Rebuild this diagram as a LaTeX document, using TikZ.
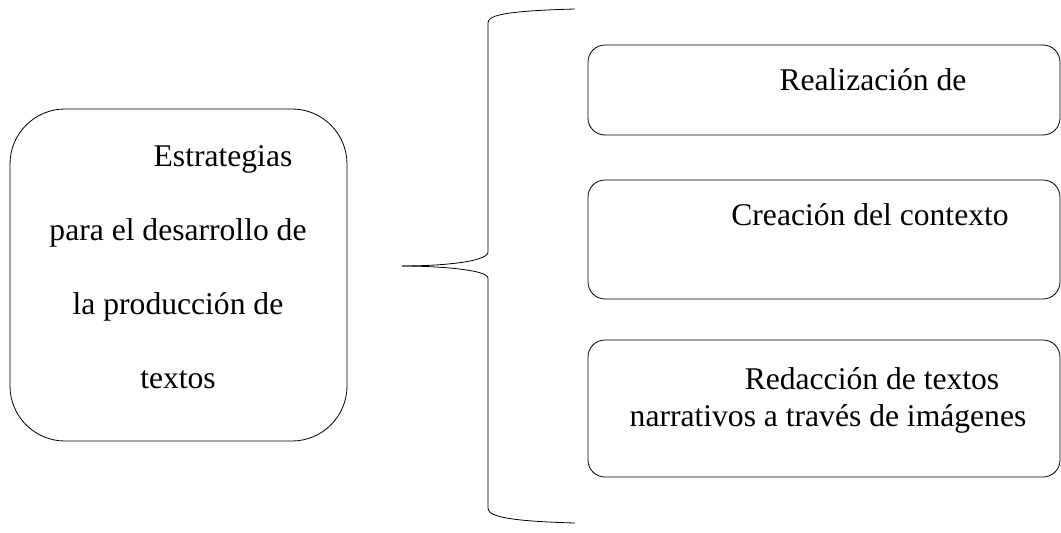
\documentclass[tikz,border=0pt]{standalone}
\usepackage{fontspec}
\setmainfont{Liberation Serif}
\begin{document}
\begin{tikzpicture}[x=1pt,y=1pt,line width=0.8pt]
	\tikzstyle{every node}+=[inner sep=0pt,font=\fontsize{31.6}{36}\selectfont]
	\tikzstyle{mainbox}=[draw=black,rounded corners=55pt,minimum width=337pt,minimum height=332pt]
	\tikzstyle{itembox}=[draw=black,rounded corners=17pt,minimum width=472pt]
	\tikzstyle{line}=[anchor=base]
	\useasboundingbox (0,0) rectangle (1061,-533);
	% left box
	\node [mainbox] (estrategias) at (178.5,-275) {};
	\node [line] (estr1) at (223,-166) {Estrategias};
	\node [line] (estr2) at (178,-240) {para el desarrollo de};
	\node [line] (estr3) at (178,-314) {la producción de};
	\node [line] (estr4) at (178,-388) {textos};
	% brace
	\coordinate (tip) at (402,-266);
	\draw [black] (575,-9) .. controls (500,-11) and (488,-16) .. (488,-23) -- (488,-252) .. controls (488,-262) and (440,-266) .. (tip);
	\draw [black] (tip) .. controls (440,-266) and (488,-270) .. (488,-278) -- (488,-508) .. controls (488,-515) and (500,-521) .. (575,-523);
	% right boxes
	\node [itembox,minimum height=90pt] (realizacion) at (824,-90) {};
	\node [line] (real1) at (873,-90) {Realización de};
	\node [itembox,minimum height=119pt] (creacion) at (824,-239.5) {};
	\node [line] (crea1) at (870,-225) {Creación del contexto};
	\node [itembox,minimum height=137pt] (redaccion) at (824,-408.5) {};
	\node [line] (reda1) at (872,-389) {Redacción de textos};
	\node [line] (reda2) at (828,-426) {narrativos a través de imágenes};
\end{tikzpicture}
\end{document}
